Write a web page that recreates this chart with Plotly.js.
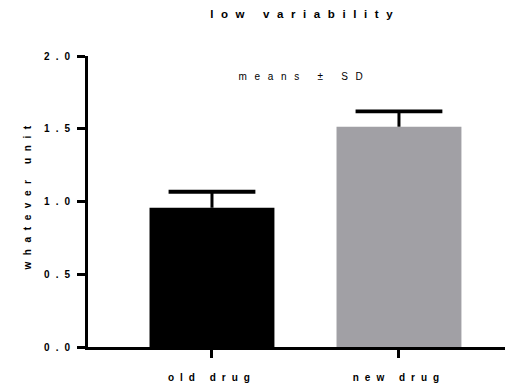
<!DOCTYPE html>
<html>
<head>
<meta charset="utf-8">
<script src="https://cdn.plot.ly/plotly-3.0.1.min.js"></script>
<style>
  html, body { margin: 0; padding: 0; background: #fff; }
  #chart { width: 507px; height: 385px; }
  .main-svg text { letter-spacing: 6px; }
  .main-svg .gtitle { letter-spacing: 7.6px; }
  .main-svg .annotation[data-index="0"] .annotation-text { letter-spacing: 7.7px; }
  .main-svg .annotation[data-index="1"] .annotation-text { letter-spacing: 6.6px; }
</style>
</head>
<body>
<div id="chart"></div>
<script>
const categories = ["old drug", "new drug"];
const means = [0.957, 1.514];
const sd = [0.11, 0.105];
const barColors = ["#000000", "#a1a0a5"];
const yTickVals = [0, 0.5, 1.0, 1.5, 2.0];
const yTickText = ["0.0", "0.5", "1.0", "1.5", "2.0"];

const FONT = "Liberation Sans, Arial, sans-serif";
const xPos = categories.map((c, i) => i);

const bars = {
  type: "bar",
  x: xPos,
  y: means,
  width: 0.668,
  marker: { color: barColors, line: { width: 0 } },
  error_y: {
    type: "data",
    symmetric: false,
    array: sd,
    arrayminus: sd.map(() => 0),
    color: "#000",
    thickness: 3,
    width: 0
  },
  hoverinfo: "none"
};

const caps = {
  type: "scatter",
  mode: "markers",
  x: xPos,
  y: means.map((m, i) => m + sd[i]),
  marker: { symbol: "line-ew", size: 62, color: "#000", line: { color: "#000", width: 3.8 } },
  hoverinfo: "none",
  cliponaxis: false
};

const layout = {
  width: 507,
  height: 385,
  margin: { l: 88, r: 2, t: 56, b: 38 },
  paper_bgcolor: "#fff",
  plot_bgcolor: "#fff",
  showlegend: false,
  font: { family: FONT, color: "#000" },
  title: {
    text: "<b>low variability</b>",
    font: { family: FONT, size: 11.5, color: "#000" },
    xref: "container", yref: "container",
    x: 0.602, y: 1 - 14 / 385,
    xanchor: "center", yanchor: "middle"
  },
  xaxis: {
    range: [-0.663, 1.567],
    tickvals: xPos,
    ticktext: categories.map(c => "<b>" + c + "</b>"),
    ticks: "outside",
    ticklen: 8,
    tickwidth: 3,
    tickcolor: "#000",
    showline: true,
    linecolor: "#000",
    linewidth: 3,
    showgrid: false,
    zeroline: false,
    ticklabelstandoff: 11,
    tickfont: { family: FONT, size: 10, color: "#000" },
    fixedrange: true
  },
  yaxis: {
    range: [0, 2],
    tickvals: yTickVals,
    ticktext: yTickText.map(t => "<b>" + t + "</b>"),
    ticks: "outside",
    ticklen: 8,
    tickwidth: 3,
    tickcolor: "#000",
    showline: true,
    linecolor: "#000",
    linewidth: 3,
    showgrid: false,
    zeroline: false,
    ticklabelstandoff: -1,
    tickfont: { family: FONT, size: 10, color: "#000" },
    fixedrange: true
  },
  annotations: [{
    text: "means ± SD",
    xref: "paper", yref: "y",
    x: 0.518, y: 1.856,
    xanchor: "center", yanchor: "middle",
    showarrow: false,
    font: { family: FONT, size: 10, color: "#000" }
  }, {
    text: "<b>whatever unit</b>",
    xref: "paper", yref: "y",
    x: -0.1439, y: 1.047,
    xanchor: "center", yanchor: "middle",
    textangle: -90,
    showarrow: false,
    font: { family: FONT, size: 10, color: "#000" }
  }]
};

Plotly.newPlot("chart", [bars, caps], layout, { staticPlot: true, displayModeBar: false });
</script>
</body>
</html>
